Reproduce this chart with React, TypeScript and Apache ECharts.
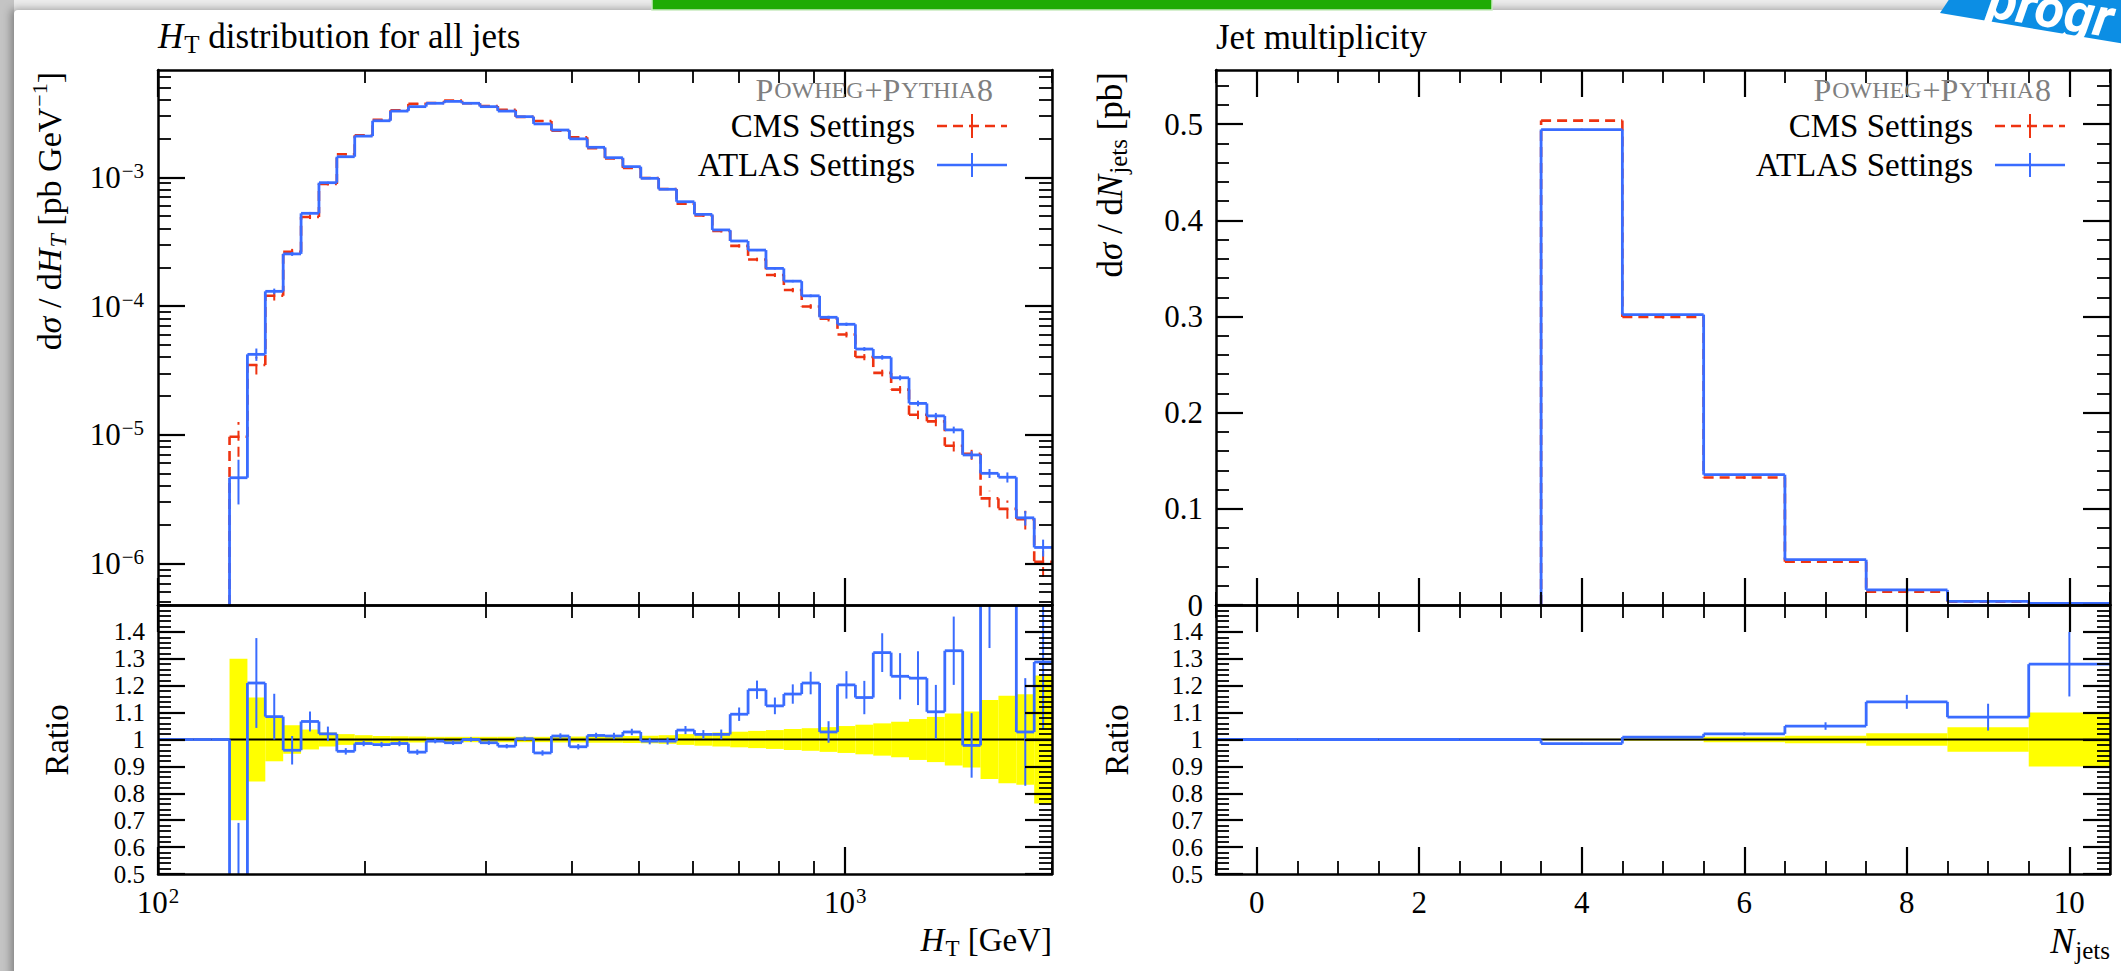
import React, { useEffect, useRef } from "react";
import * as echarts from "echarts";

const SERIF = "'Liberation Serif', 'DejaVu Serif', serif";
const RED = "#ee3311";
const BLUE = "#3a6cff";
const YELLOW = "#ffff00";

// ---------------- H_T distribution (log-spaced bins) ----------------
const HT_EDGES = [
  100, 106.18, 112.73, 119.7, 127.09, 134.94, 143.27, 152.12, 161.51, 171.49,
  182.08, 193.32, 205.26, 217.94, 231.4, 245.69, 260.87, 276.98, 294.08, 312.24,
  331.53, 352.0, 373.74, 396.83, 421.33, 447.21, 474.83, 504.16, 535.3, 568.36,
  603.46, 640.73, 680.3, 722.31, 766.93, 814.29, 864.58, 917.98, 974.67, 1034.87,
  1098.78, 1166.64, 1238.69, 1315.19, 1396.42, 1482.66, 1574.23, 1671.45, 1774.68, 1884.28,
  2000,
];
const HT_CMS = [
  0, 0, 0, 0, 9.64e-6, 3.48e-5, 1.2e-4, 2.64e-4, 4.92e-4, 8.89e-4,
  1.51e-3, 2.12e-3, 2.8e-3, 3.32e-3, 3.72e-3, 3.78e-3, 3.94e-3, 3.76e-3, 3.58e-3, 3.35e-3,
  2.95e-3, 2.74e-3, 2.3e-3, 2.05e-3, 1.68e-3, 1.4e-3, 1.18e-3, 9.88e-4, 8.12e-4, 6.24e-4,
  5.05e-4, 3.83e-4, 2.93e-4, 2.3e-4, 1.74e-4, 1.33e-4, 9.92e-5, 7.95e-5, 6.0e-5, 4.01e-5,
  3.02e-5, 2.24e-5, 1.43e-5, 1.27e-5, 8.2e-6, 7.12e-6, 3.2e-6, 2.65e-6, 2.2e-6, 1.03e-6,
];
const HT_ATLAS = [
  0, 0, 0, 0, 4.63e-6, 4.21e-5, 1.3e-4, 2.54e-4, 5.25e-4, 9.08e-4,
  1.445e-3, 2.09e-3, 2.75e-3, 3.27e-3, 3.54e-3, 3.76e-3, 3.89e-3, 3.76e-3, 3.54e-3, 3.27e-3,
  2.96e-3, 2.6e-3, 2.33e-3, 1.99e-3, 1.71e-3, 1.42e-3, 1.21e-3, 9.82e-4, 8.07e-4, 6.46e-4,
  5.15e-4, 3.9e-4, 3.2e-4, 2.72e-4, 1.96e-4, 1.56e-4, 1.2e-4, 8.17e-5, 7.21e-5, 4.63e-5,
  3.99e-5, 2.77e-5, 1.75e-5, 1.4e-5, 1.09e-5, 6.96e-6, 5.01e-6, 4.67e-6, 2.26e-6, 1.33e-6,
];
const HT_ATLAS_REL_ERR = [
  0, 0, 0, 0, 0.38, 0.11, 0.05, 0.035, 0.025, 0.018,
  0.012, 0.01, 0.01, 0.009, 0.009, 0.009, 0.009, 0.009, 0.009, 0.009,
  0.009, 0.009, 0.01, 0.01, 0.01, 0.01, 0.011, 0.011, 0.012, 0.012,
  0.013, 0.014, 0.015, 0.018, 0.02, 0.022, 0.025, 0.028, 0.03, 0.035,
  0.04, 0.045, 0.05, 0.055, 0.06, 0.07, 0.08, 0.09, 0.13, 0.15,
];
// CMS relative uncertainty (yellow band)
const HT_BAND = [
  0, 0, 0, 0, 0.3, 0.156, 0.081, 0.053, 0.037, 0.026,
  0.02, 0.016, 0.013, 0.012, 0.011, 0.01, 0.01, 0.01, 0.01, 0.01,
  0.01, 0.01, 0.011, 0.011, 0.012, 0.012, 0.013, 0.014, 0.016, 0.02,
  0.023, 0.026, 0.029, 0.032, 0.035, 0.039, 0.042, 0.046, 0.05, 0.055,
  0.06, 0.066, 0.076, 0.084, 0.097, 0.104, 0.147, 0.163, 0.168, 0.238,
];
const HT_RATIO = [
  1, 1, 1, 1, 0.46, 1.21, 1.085, 0.96, 1.067, 1.021,
  0.956, 0.985, 0.981, 0.985, 0.953, 0.994, 0.988, 1.0, 0.988, 0.975,
  1.003, 0.95, 1.013, 0.973, 1.015, 1.013, 1.028, 0.994, 0.994, 1.035,
  1.019, 1.019, 1.094, 1.185, 1.125, 1.169, 1.21, 1.028, 1.203, 1.156,
  1.323, 1.235, 1.228, 1.103, 1.33, 0.978, 1.62, 1.76, 1.028, 1.288,
];
const HT_RATIO_ERR = [
  0, 0, 0, 0, 0.23, 0.167, 0.085, 0.053, 0.037, 0.027,
  0.012, 0.01, 0.01, 0.01, 0.01, 0.008, 0.008, 0.008, 0.008, 0.008,
  0.008, 0.01, 0.01, 0.01, 0.01, 0.012, 0.012, 0.012, 0.013, 0.015,
  0.016, 0.018, 0.025, 0.034, 0.031, 0.036, 0.042, 0.04, 0.051, 0.062,
  0.072, 0.086, 0.1, 0.1, 0.127, 0.12, 0.28, 0.2, 0.2, 0.25,
];

// ---------------- Jet multiplicity ----------------
const NJ_EDGES = [-0.5, 0.5, 1.5, 2.5, 3.5, 4.5, 5.5, 6.5, 7.5, 8.5, 9.5, 10.5];
const NJ_CMS = [0, 0, 0, 0, 0.5037, 0.2995, 0.1325, 0.0449, 0.0138, 0.0035, 0.00125];
const NJ_ATLAS = [0, 0, 0, 0, 0.4944, 0.302, 0.1355, 0.0471, 0.0157, 0.0038, 0.0016];
const NJ_ATLAS_REL_ERR = [0, 0, 0, 0, 0.002, 0.003, 0.005, 0.01, 0.02, 0.04, 0.09];
const NJ_BAND = [0, 0, 0, 0, 0.003, 0.005, 0.01, 0.014, 0.023, 0.046, 0.1];
const NJ_RATIO = [1, 1, 1, 1, 0.985, 1.009, 1.021, 1.05, 1.14, 1.083, 1.28];
const NJ_RATIO_ERR = [0, 0, 0, 0, 0.003, 0.004, 0.006, 0.014, 0.026, 0.05, 0.12];

// ---------------- axes ----------------
const HT_X_RANGE = [100, 2000];
const HT_Y_RANGE = [4.75e-7, 6.82e-3];
const RATIO_RANGE = [0.5, 1.5];
const NJ_X_RANGE = [-0.5, 10.5];
const NJ_Y_RANGE = [0, 0.5563];

const HT_X_MAJOR = [100, 1000];
const HT_Y_MAJOR = [1e-6, 1e-5, 1e-4, 1e-3];
const RATIO_MAJOR = [0.5, 0.6, 0.7, 0.8, 0.9, 1, 1.1, 1.2, 1.3, 1.4];
const NJ_X_MAJOR = [0, 2, 4, 6, 8, 10];
const NJ_Y_MAJOR = [0, 0.1, 0.2, 0.3, 0.4, 0.5];

function decadeMinors(lo: number, hi: number) {
  const out: number[] = [];
  for (let e = Math.floor(Math.log10(lo)); e <= Math.ceil(Math.log10(hi)); e++) {
    for (let m = 2; m <= 9; m++) {
      const v = m * Math.pow(10, e);
      if (v >= lo && v <= hi) out.push(v);
    }
  }
  return out;
}
function stepMinors(lo: number, hi: number, step: number) {
  const out: number[] = [];
  const n = Math.round((hi - lo) / step);
  for (let k = 0; k <= n; k++) out.push(Math.round((lo + k * step) * 1e6) / 1e6);
  return out;
}

const makeTickRich = (fs: number) => ({
  b: { fontFamily: SERIF, fontSize: fs, color: "#000", lineHeight: Math.round(fs * 1.1) },
  s: { fontFamily: SERIF, fontSize: Math.round(fs * 0.68), color: "#000", lineHeight: Math.round(fs * 0.6), verticalAlign: "top", padding: [0, 0, 0, 1] },
});
const logFmt = (v: number) => {
  const e = Math.round(Math.log10(v));
  return `{b|10}{s|${e < 0 ? "\u2212" + -e : e}}`;
};
const numFmt = (v: number) => `{b|${+v.toFixed(2)}}`;

function makeAxes(
  dim: "x" | "y",
  gridIndex: number,
  type: string,
  range: number[],
  majors: number[],
  minors: number[],
  label: any
) {
  const posA = dim === "x" ? "bottom" : "left";
  const posB = dim === "x" ? "top" : "right";
  const base: any = {
    type,
    gridIndex,
    min: range[0],
    max: range[1],
    splitLine: { show: false },
    minorTick: { show: false },
    minorSplitLine: { show: false },
    silent: true,
    z: 6,
  };
  if (type === "log") base.logBase = 10;
  const line = { show: true, onZero: false, lineStyle: { color: "#000", width: 2.5 } };
  const major = (pos: string, lbl: any) => ({
    ...base,
    position: pos,
    axisLine: line,
    axisTick: { show: true, inside: true, length: 27, customValues: majors, lineStyle: { color: "#000", width: 2.2 } },
    axisLabel: lbl
      ? {
          show: true,
          customValues: majors,
          formatter: lbl.formatter,
          margin: lbl.margin,
          rich: makeTickRich(lbl.fontSize),
          fontFamily: SERIF,
          fontSize: lbl.fontSize,
          color: "#000",
          showMinLabel: true,
          showMaxLabel: true,
          hideOverlap: false,
        }
      : { show: false },
  });
  const minor = (pos: string) => ({
    ...base,
    position: pos,
    axisLine: { show: false, onZero: false },
    axisTick: { show: true, inside: true, length: 13, customValues: minors, lineStyle: { color: "#000", width: 1.8 } },
    axisLabel: { show: false },
  });
  return [major(posA, label), major(posB, null), minor(posA), minor(posB)];
}

// ---------------- render helpers ----------------
function histRender(o: { color: string; dash?: number[]; width: number; errWidth: number; logX: boolean; logY: boolean }) {
  return (params: any, api: any) => {
    const cs = params.coordSys;
    const lo = api.value(0);
    const hi = api.value(1);
    const v = api.value(2);
    const eDn = api.value(3);
    const eUp = api.value(4);
    const prev = api.value(5);
    const bottom = cs.y + cs.height;
    const refY = o.logY ? 1e-3 : 0;
    const yOf = (val: number) => (o.logY && !(val > 0) ? bottom : api.coord([lo, val])[1]);
    const x0 = api.coord([lo, refY])[0];
    const x1 = api.coord([hi, refY])[0];
    const xc = api.coord([o.logX ? Math.sqrt(lo * hi) : (lo + hi) / 2, refY])[0];
    const style: any = { stroke: o.color, lineWidth: o.width, fill: null, lineDash: o.dash || null };
    const children: any[] = [];
    const yv = yOf(v);
    if (v > 0) children.push({ type: "line", shape: { x1: x0, y1: yv, x2: x1, y2: yv }, style });
    if (v !== prev && (v > 0 || prev > 0)) {
      children.push({ type: "line", shape: { x1: x0, y1: yOf(prev), x2: x0, y2: yv }, style });
    }
    if (v > 0 && (eDn > 0 || eUp > 0)) {
      children.push({
        type: "line",
        shape: { x1: xc, y1: yOf(v - eDn), x2: xc, y2: yOf(v + eUp) },
        style: { ...style, lineWidth: o.errWidth },
      });
    }
    return { type: "group", children };
  };
}

function bandRender(params: any, api: any) {
  const lo = api.value(0);
  const hi = api.value(1);
  const b = api.value(2);
  if (!(b > 0)) return { type: "group", children: [] };
  const p0 = api.coord([lo, 1 + b]);
  const p1 = api.coord([hi, 1 - b]);
  return {
    type: "rect",
    shape: { x: p0[0], y: p0[1], width: p1[0] - p0[0], height: p1[1] - p0[1] },
    style: { fill: YELLOW, stroke: null },
  };
}

const histData = (edges: number[], vals: number[], dn: number[], up: number[], firstPrev: number) =>
  vals.map((v, i) => [edges[i], edges[i + 1], v, dn[i], up[i], i === 0 ? firstPrev : vals[i - 1]]);
const bandData = (edges: number[], band: number[]) => band.map((b, i) => [edges[i], edges[i + 1], b]);

// ---------------- text styles ----------------
const makeRich = (fs: number) => ({
  i: { fontFamily: SERIF, fontStyle: "italic", fontSize: fs, fill: "#000", lineHeight: Math.round(fs * 1.2) },
  sub: { fontFamily: SERIF, fontSize: Math.round(fs * 0.7), fill: "#000", lineHeight: Math.round(fs * 0.82), verticalAlign: "bottom", padding: [0, 0, 0, 1] },
  isub: { fontFamily: SERIF, fontStyle: "italic", fontSize: Math.round(fs * 0.7), fill: "#000", lineHeight: Math.round(fs * 0.82), verticalAlign: "bottom", padding: [0, 0, 0, 1] },
  sup: { fontFamily: SERIF, fontSize: Math.round(fs * 0.66), fill: "#000", lineHeight: Math.round(fs * 0.7), verticalAlign: "top", padding: [0, 0, 0, 1] },
  big: { fontFamily: SERIF, fontSize: fs, fill: "#7f7f7f", lineHeight: Math.round(fs * 1.2) },
  sm: { fontFamily: SERIF, fontSize: Math.round(fs * 0.76), fill: "#7f7f7f", lineHeight: Math.round(fs * 1.2), padding: [0, 1, 0, 1] },
});
const txt = (x: number, y: number, text: string, align: string, fs: number, extra: any = {}) => ({
  type: "text",
  x,
  y,
  z: 100,
  silent: true,
  ...extra,
  style: {
    text,
    rich: makeRich(fs),
    fontFamily: SERIF,
    fontSize: fs,
    fill: "#000",
    lineHeight: Math.round(fs * 1.2),
    align,
    verticalAlign: "middle",
  },
});

function legendBlock(frameRight: number) {
  const tx = frameRight - 137;
  const m0 = frameRight - 115;
  const m1 = frameRight - 45;
  const mc = (m0 + m1) / 2;
  const yC = 126;
  const yA = 165;
  return [
    txt(frameRight - 59, 90, "{big|P}{sm|OWHEG}{big|+P}{sm|YTHIA}{big|8}", "right", 32),
    txt(tx, yC, "CMS Settings", "right", 33),
    txt(tx, yA, "ATLAS Settings", "right", 33),
    { type: "line", z: 100, shape: { x1: m0, y1: yC, x2: m1, y2: yC }, style: { stroke: RED, lineWidth: 2.6, lineDash: [10, 6] } },
    { type: "line", z: 100, shape: { x1: mc, y1: yC - 12, x2: mc, y2: yC + 12 }, style: { stroke: RED, lineWidth: 2 } },
    { type: "line", z: 100, shape: { x1: m0, y1: yA, x2: m1, y2: yA }, style: { stroke: BLUE, lineWidth: 2.6 } },
    { type: "line", z: 100, shape: { x1: mc, y1: yA - 12, x2: mc, y2: yA + 12 }, style: { stroke: BLUE, lineWidth: 2 } },
  ];
}

export default function App() {
  const ref = useRef<HTMLDivElement>(null);

  useEffect(() => {
    if (!ref.current) return;
    const chart = echarts.init(ref.current, null, { renderer: "svg" });

    const grids = [
      { left: 158, top: 70, width: 894, height: 535 },
      { left: 158, top: 605, width: 894, height: 269 },
      { left: 1216, top: 70, width: 894, height: 535 },
      { left: 1216, top: 605, width: 894, height: 269 },
    ].map((g) => ({ ...g, containLabel: false, outerBoundsMode: "none", show: false }));

    const xAxis = [
      ...makeAxes("x", 0, "log", HT_X_RANGE, HT_X_MAJOR, decadeMinors(HT_X_RANGE[0], HT_X_RANGE[1]), null),
      ...makeAxes("x", 1, "log", HT_X_RANGE, HT_X_MAJOR, decadeMinors(HT_X_RANGE[0], HT_X_RANGE[1]), { formatter: logFmt, margin: 11, fontSize: 31 }),
      ...makeAxes("x", 2, "value", NJ_X_RANGE, NJ_X_MAJOR, stepMinors(-0.5, 10.5, 0.5), null),
      ...makeAxes("x", 3, "value", NJ_X_RANGE, NJ_X_MAJOR, stepMinors(-0.5, 10.5, 0.5), { formatter: numFmt, margin: 11, fontSize: 31 }),
    ];
    const yAxis = [
      ...makeAxes("y", 0, "log", HT_Y_RANGE, HT_Y_MAJOR, decadeMinors(HT_Y_RANGE[0], HT_Y_RANGE[1]), { formatter: logFmt, margin: 14, fontSize: 31 }),
      ...makeAxes("y", 1, "value", RATIO_RANGE, RATIO_MAJOR, stepMinors(0.5, 1.5, 0.02), { formatter: numFmt, margin: 13, fontSize: 25 }),
      ...makeAxes("y", 2, "value", NJ_Y_RANGE, NJ_Y_MAJOR, stepMinors(0, 0.54, 0.02), { formatter: numFmt, margin: 13, fontSize: 31 }),
      ...makeAxes("y", 3, "value", RATIO_RANGE, RATIO_MAJOR, stepMinors(0.5, 1.5, 0.02), { formatter: numFmt, margin: 13, fontSize: 25 }),
    ];

    const custom = (name: string, g: number, data: any[], renderItem: any, z: number) => ({
      type: "custom",
      name,
      xAxisIndex: 4 * g,
      yAxisIndex: 4 * g,
      data,
      renderItem,
      encode: { x: [0, 1], y: [2] },
      clip: true,
      silent: true,
      z,
    });

    const htCmsErr = HT_CMS.map((v, i) => v * HT_BAND[i]);
    const htAtlasErr = HT_ATLAS.map((v, i) => v * HT_ATLAS_REL_ERR[i]);
    const njCmsErr = NJ_CMS.map((v, i) => v * NJ_BAND[i]);
    const njAtlasErr = NJ_ATLAS.map((v, i) => v * NJ_ATLAS_REL_ERR[i]);

    const series: any[] = [
      custom("CMS Settings", 0, histData(HT_EDGES, HT_CMS, htCmsErr, htCmsErr, 0),
        histRender({ color: RED, dash: [10, 6], width: 2.6, errWidth: 2, logX: true, logY: true }), 2),
      custom("ATLAS Settings", 0, histData(HT_EDGES, HT_ATLAS, htAtlasErr, htAtlasErr, 0),
        histRender({ color: BLUE, width: 2.8, errWidth: 2, logX: true, logY: true }), 3),
      custom("CMS band", 1, bandData(HT_EDGES, HT_BAND), bandRender, 1),
      {
        type: "line", xAxisIndex: 4, yAxisIndex: 4, z: 2, silent: true, symbol: "none", animation: false,
        data: [[HT_X_RANGE[0], 1], [HT_X_RANGE[1], 1]], lineStyle: { color: "#000", width: 2.2 },
      },
      custom("ATLAS ratio", 1, histData(HT_EDGES, HT_RATIO, HT_RATIO_ERR, HT_RATIO_ERR, HT_RATIO[0]),
        histRender({ color: BLUE, width: 2.8, errWidth: 2, logX: true, logY: false }), 3),

      custom("CMS Settings", 2, histData(NJ_EDGES, NJ_CMS, njCmsErr, njCmsErr, 0),
        histRender({ color: RED, dash: [10, 6], width: 2.6, errWidth: 2, logX: false, logY: false }), 2),
      custom("ATLAS Settings", 2, histData(NJ_EDGES, NJ_ATLAS, njAtlasErr, njAtlasErr, 0),
        histRender({ color: BLUE, width: 2.8, errWidth: 2, logX: false, logY: false }), 3),
      custom("CMS band", 3, bandData(NJ_EDGES, NJ_BAND), bandRender, 1),
      {
        type: "line", xAxisIndex: 12, yAxisIndex: 12, z: 2, silent: true, symbol: "none", animation: false,
        data: [[NJ_X_RANGE[0], 1], [NJ_X_RANGE[1], 1]], lineStyle: { color: "#000", width: 2.2 },
      },
      custom("ATLAS ratio", 3, histData(NJ_EDGES, NJ_RATIO, NJ_RATIO_ERR, NJ_RATIO_ERR, NJ_RATIO[0]),
        histRender({ color: BLUE, width: 2.8, errWidth: 2, logX: false, logY: false }), 3),
    ];

    const graphicEls: any[] = [
      // decorations at the top of the page
      { type: "rect", z: 90, shape: { x: 652, y: -4, width: 840, height: 14 }, style: { fill: "#1fab05", stroke: "#c9ecc0", lineWidth: 1.5 } },
      { type: "polygon", z: 90, shape: { points: [[1950, -2], [2125, -2], [2125, 44], [1940, 13]] }, style: { fill: "#0c8ee4" } },
      {
        type: "text", z: 91, x: 1984, y: 25, rotation: -0.165, silent: true,
        style: { text: "progr", fontFamily: "Roboto, 'Open Sans', sans-serif", fontStyle: "italic", fontWeight: "bold", fontSize: 54, fill: "#ffffff", align: "left", verticalAlign: "bottom" },
      },
      // titles
      txt(158, 36, "{i|H}{sub|T} distribution for all jets", "left", 35),
      txt(1216, 37, "Jet multiplicity", "left", 35),
      // axis titles
      txt(49, 72, "d{i|\u03c3} / d{i|H}{isub|T} [pb GeV{sup|\u22121}]", "right", 34, { rotation: Math.PI / 2 }),
      txt(1110, 72, "d{i|\u03c3} / d{i|N}{sub|jets} [pb]", "right", 35, { rotation: Math.PI / 2 }),
      txt(57, 740, "Ratio", "center", 33, { rotation: Math.PI / 2 }),
      txt(1117, 740, "Ratio", "center", 33, { rotation: Math.PI / 2 }),
      txt(1052, 940, "{i|H}{sub|T} [GeV]", "right", 33),
      txt(2110, 941, "{i|N}{sub|jets}", "right", 36),
      ...legendBlock(1052),
      ...legendBlock(2110),
    ];

    chart.setOption({
      animation: false,
      backgroundColor: "transparent",
      grid: grids,
      xAxis,
      yAxis,
      series,
      graphic: { elements: graphicEls },
    });

    return () => chart.dispose();
  }, []);

  return (
    <div style={{ position: "fixed", left: 0, top: 0, width: 2121, height: 971, overflow: "hidden", background: "#ececec" }}>
      <div style={{ position: "absolute", left: 0, top: 0, width: 14, height: 971, background: "#c4c4c4" }} />
      <div
        style={{
          position: "absolute", left: 14, top: 10, width: 2200, height: 1000, background: "#ffffff",
          boxShadow: "-3px -1px 9px rgba(0,0,0,0.35)", borderTopLeftRadius: 4,
        }}
      />
      <div ref={ref} style={{ position: "absolute", left: 0, top: 0, width: 2121, height: 971 }} />
    </div>
  );
}
